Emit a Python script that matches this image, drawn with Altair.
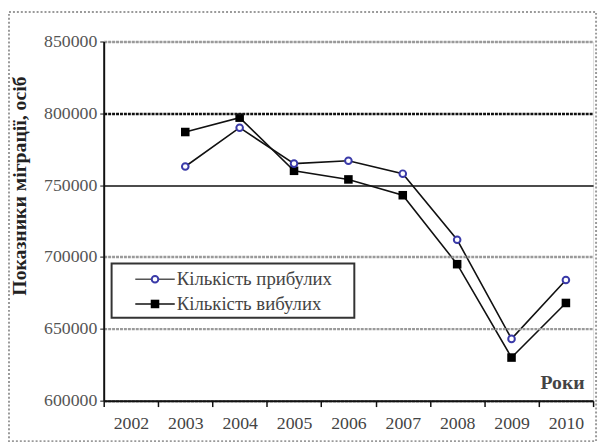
import altair as alt
import pandas as pd

years = ["2002", "2003", "2004", "2005", "2006", "2007", "2008", "2009", "2010"]
data_years = ["2003", "2004", "2005", "2006", "2007", "2008", "2009", "2010"]
arrived = [763000, 790000, 765000, 767000, 758000, 712000, 643000, 684000]
departed = [787000, 797000, 760000, 754000, 743000, 695000, 630000, 668000]
series_names = ["Кількість прибулих", "Кількість вибулих"]
y_ticks = [600000, 650000, 700000, 750000, 800000, 850000]
y_title = "Показники міграції, осіб"
x_title = "Роки"

df = pd.DataFrame({
    "year": data_years * 2,
    "value": arrived + departed,
    "series": [series_names[0]] * len(arrived) + [series_names[1]] * len(departed),
})

FONT = "Times New Roman, Liberation Serif, serif"
W, H = 496, 364

x_enc = alt.X(
    "year:N",
    scale=alt.Scale(type="band", domain=years, paddingInner=0, paddingOuter=0),
    axis=alt.Axis(
        title=x_title, labelAngle=0, tickBand="extent", tickSize=6, tickColor="#111",
        tickWidth=1.5, domainColor="#111", domainWidth=2, labelPadding=8,
        labelFont=FONT, labelFontSize=18, labelColor="#444", grid=False,
        titleFont=FONT, titleFontSize=20, titleFontWeight="bold", titleColor="#444",
        titleX=W - 9, titleY=-18, titleAlign="right", titleBaseline="middle",
        zindex=2,
    ),
)
y_enc = alt.Y(
    "value:Q",
    scale=alt.Scale(domain=[600000, 850000], nice=False, zero=False),
    axis=alt.Axis(
        title=y_title, values=y_ticks, format="d", tickSize=4, tickColor="#111",
        domainColor="#111", domainWidth=2, labelPadding=3,
        labelFont=FONT, labelFontSize=18, labelColor="#555",
        titleFont=FONT, titleFontSize=20, titleFontWeight="bold", titleColor="#222",
        titleAngle=-90, titleX=-79, titleY=146, titleAlign="center", titleBaseline="alphabetic",
        grid=True,
        gridColor={"condition": {"test": "datum.value == 750000 || datum.value == 800000", "value": "#111"}, "value": "#9a9a9a"},
        gridDash={"condition": {"test": "datum.value == 750000", "value": []}, "value": [3, 1]},
        gridWidth={"condition": {"test": "datum.value == 750000", "value": 1.5}, "value": 2.5},
        zindex=2,
    ),
)

base = alt.Chart(df)

lines = base.mark_line(color="#111", strokeWidth=1.6).encode(
    x=x_enc, y=y_enc, detail="series:N"
)
pts_dep = base.transform_filter(alt.datum.series == series_names[1]).mark_point(
    shape="square", filled=True, color="#000", size=75, opacity=1
).encode(x=x_enc, y=y_enc)
pts_arr = base.transform_filter(alt.datum.series == series_names[0]).mark_point(
    shape="circle", filled=True, fill="white", stroke="#3a3aa8", strokeWidth=2, size=45, opacity=1
).encode(x=x_enc, y=y_enc)

# outer frame
frame = alt.Chart(pd.DataFrame({"a": [0]})).mark_rect(
    filled=False, stroke="#9a9a9a", strokeWidth=2, strokeDash=[2, 2]
).encode(x=alt.value(-96), x2=alt.value(499), y=alt.value(-30), y2=alt.value(405))

# legend (manual)
leg_box = alt.Chart(pd.DataFrame({"a": [0]})).mark_rect(
    fill="white", stroke="#333", strokeWidth=2
).encode(x=alt.value(8), x2=alt.value(254), y=alt.value(225), y2=alt.value(280))
leg_rule1 = alt.Chart(pd.DataFrame({"a": [0]})).mark_rule(color="#555", strokeWidth=1.5).encode(
    x=alt.value(32), x2=alt.value(72), y=alt.value(241))
leg_rule2 = alt.Chart(pd.DataFrame({"a": [0]})).mark_rule(color="#111", strokeWidth=1.6).encode(
    x=alt.value(32), x2=alt.value(72), y=alt.value(266))
leg_p1 = alt.Chart(pd.DataFrame({"a": [0]})).mark_point(
    shape="circle", filled=True, fill="white", stroke="#3a3aa8", strokeWidth=2, size=45, opacity=1
).encode(x=alt.value(52), y=alt.value(241))
leg_p2 = alt.Chart(pd.DataFrame({"a": [0]})).mark_point(
    shape="square", filled=True, color="#000", size=75, opacity=1
).encode(x=alt.value(52), y=alt.value(266))
leg_t1 = alt.Chart(pd.DataFrame({"t": [series_names[0]]})).mark_text(
    align="left", baseline="middle", font=FONT, fontSize=19, color="#444"
).encode(x=alt.value(74), y=alt.value(241), text="t:N")
leg_t2 = alt.Chart(pd.DataFrame({"t": [series_names[1]]})).mark_text(
    align="left", baseline="middle", font=FONT, fontSize=19, color="#444"
).encode(x=alt.value(74), y=alt.value(266), text="t:N")

chart = alt.layer(
    frame, lines, pts_dep, pts_arr,
    leg_box, leg_rule1, leg_rule2, leg_p1, leg_p2, leg_t1, leg_t2,
).properties(
    width=W, height=H,
    autosize=alt.AutoSizeParams(type="none"),
    padding={"left": 97, "top": 31, "right": 7, "bottom": 44},
).configure_view(
    stroke="#9a9a9a", strokeWidth=2, strokeDash=[2, 2]
).configure(background="white", font=FONT)

chart.save("out.html", embed_options={"renderer": "svg", "actions": False})
